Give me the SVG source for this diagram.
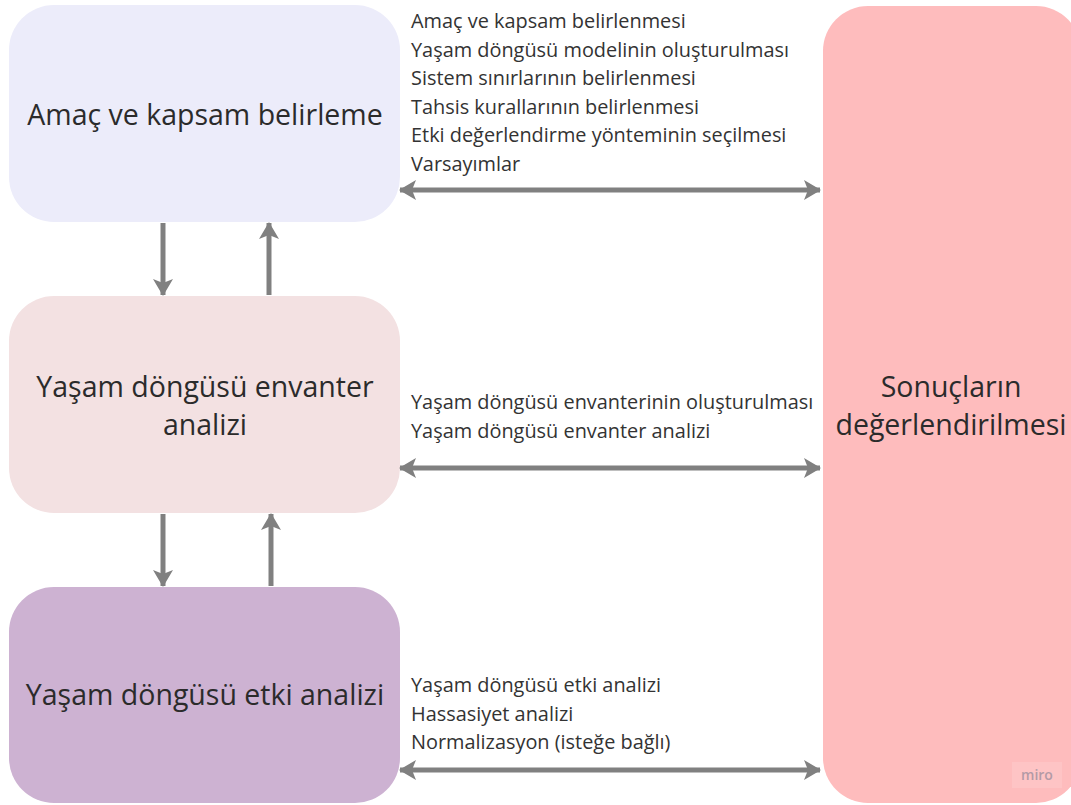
<svg xmlns="http://www.w3.org/2000/svg" width="1071" height="805" viewBox="0 0 1071 805">
<style>
.big{font-family:"Open Sans","Noto Sans",sans-serif;font-size:28.5px;fill:#2b2b2b;text-anchor:middle}
.small{font-family:"Open Sans","Noto Sans",sans-serif;font-size:19.9px;fill:#333333}
.conn{stroke:#808080;stroke-width:5;fill:none}
</style>
<defs>
<marker id="ah" viewBox="-18 -11 20 22" markerWidth="20" markerHeight="22" refX="0" refY="0" orient="auto-start-reverse" markerUnits="userSpaceOnUse">
<path d="M1,0 L-16,-10 L-12,0 L-16,10 Z" fill="#808080"/>
</marker>
</defs>
<rect width="1071" height="805" fill="#ffffff"/>
<g id="node-amac">
<rect x="9" y="5" width="391" height="217" rx="45" fill="#ECECFA"/>
<text class="big" x="205" y="125">Amaç ve kapsam belirleme</text>
</g>
<g id="node-envanter">
<rect x="9" y="296" width="391" height="217" rx="45" fill="#F3E1E2"/>
<text class="big" x="205" y="397">Yaşam döngüsü envanter</text>
<text class="big" x="205" y="435">analizi</text>
</g>
<g id="node-etki">
<rect x="9" y="587" width="391" height="216" rx="45" fill="#CDB2D2"/>
<text class="big" x="205" y="705">Yaşam döngüsü etki analizi</text>
</g>
<g id="node-sonuc">
<rect x="823" y="6" width="258" height="797" rx="45" fill="#FEBCBD"/>
<text class="big" x="951" y="397">Sonuçların</text>
<text class="big" x="951" y="435">değerlendirilmesi</text>
</g>
<g id="labels">
<text class="small" x="411" y="28">Amaç ve kapsam belirlenmesi</text>
<text class="small" x="411" y="56.6">Yaşam döngüsü modelinin oluşturulması</text>
<text class="small" x="411" y="85.2">Sistem sınırlarının belirlenmesi</text>
<text class="small" x="411" y="113.8">Tahsis kurallarının belirlenmesi</text>
<text class="small" x="411" y="142.4">Etki değerlendirme yönteminin seçilmesi</text>
<text class="small" x="411" y="171">Varsayımlar</text>
<text class="small" x="411" y="409">Yaşam döngüsü envanterinin oluşturulması</text>
<text class="small" x="411" y="437.6">Yaşam döngüsü envanter analizi</text>
<text class="small" x="411" y="692">Yaşam döngüsü etki analizi</text>
<text class="small" x="411" y="720.6">Hassasiyet analizi</text>
<text class="small" x="411" y="749.2">Normalizasyon (isteğe bağlı)</text>
</g>
<g id="connectors">
<line class="conn" x1="400" y1="190" x2="820" y2="190" marker-start="url(#ah)" marker-end="url(#ah)"/>
<line class="conn" x1="400" y1="468" x2="820" y2="468" marker-start="url(#ah)" marker-end="url(#ah)"/>
<line class="conn" x1="400" y1="770" x2="820" y2="770" marker-start="url(#ah)" marker-end="url(#ah)"/>
<line class="conn" x1="163" y1="223" x2="163" y2="295" marker-end="url(#ah)"/>
<line class="conn" x1="269" y1="295" x2="269" y2="223" marker-end="url(#ah)"/>
<line class="conn" x1="163" y1="514" x2="163" y2="586" marker-end="url(#ah)"/>
<line class="conn" x1="271" y1="586" x2="271" y2="514" marker-end="url(#ah)"/>
</g>
<g id="watermark">
<rect x="1012" y="762" width="50" height="26" fill="#ffffff" fill-opacity="0.12"/>
<text x="1037" y="780" font-family="'Open Sans',sans-serif" font-size="14" font-weight="600" fill="#b39aa6" text-anchor="middle">miro</text>
</g>
</svg>
